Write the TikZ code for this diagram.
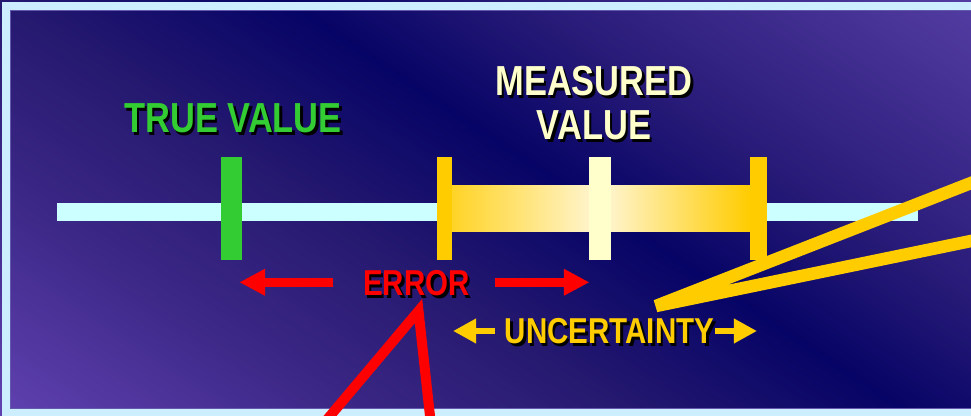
\documentclass[tikz,border=0pt]{standalone}
\usepackage{fontspec}
\setmainfont{Liberation Sans}
\usepackage{tikz}
\usetikzlibrary{arrows.meta}
\usepackage{xcolor}

\definecolor{bgA}{RGB}{98,66,178}
\definecolor{bgB}{RGB}{60,40,135}
\definecolor{bgC}{RGB}{38,25,112}
\definecolor{bgD}{RGB}{6,4,102}
\definecolor{bgE}{RGB}{38,25,118}
\definecolor{bgF}{RGB}{86,62,164}
\definecolor{frameblue}{RGB}{204,238,255}
\definecolor{barcyan}{RGB}{204,255,255}
\definecolor{truegreen}{RGB}{51,204,51}
\definecolor{gold}{RGB}{255,204,0}
\definecolor{cream}{RGB}{255,255,204}
\definecolor{lightcream}{RGB}{255,246,214}
\newcommand{\dropshadowed}[1]{\rlap{\kern2.3pt\raisebox{-1.9pt}{\color{black}#1}}#1}

\begin{document}
\begin{tikzpicture}[x=0.75pt,y=0.75pt,yscale=-1,xscale=1,
  tag/.style={anchor=base,inner sep=0pt,xscale=0.82,font=\fontsize{31.5}{36}\selectfont\bfseries},
  small tag/.style={tag,font=\fontsize{27}{32}\selectfont\bfseries},
  errarrow/.style={draw=red,line width=6.5pt,-{Triangle[length=19.3pt,width=18.8pt]}},
  uncarrow/.style={draw=gold,line width=5pt,-{Triangle[length=17.3pt,width=17.5pt]}}]
\useasboundingbox (0,0) rectangle (971,416);
\clip (0,0) rectangle (971,416);

%Shape: Background gradient
\foreach \ta/\tb/\ca/\cb in {-450/-250/bgA/bgB,-250/-98/bgB/bgC,-98/62/bgC/bgD,62/182/bgD/bgE,182/450/bgE/bgF}{
  \pgfmathtruncatemacro\n{(\tb-\ta)/4}
  \foreach \i in {1,...,\n}{
    \pgfmathsetmacro\t{\ta+4*(\i-1)}
    \pgfmathsetmacro\p{100*(\i-0.5)/\n}
    \fill[color=\cb!\p!\ca] ({491+0.551*\t-542},{210-0.834*\t-358}) -- ({491+0.551*\t+542},{210-0.834*\t+358}) -- ({491+0.551*(\t+4.6)+542},{210-0.834*(\t+4.6)+358}) -- ({491+0.551*(\t+4.6)-542},{210-0.834*(\t+4.6)-358}) -- cycle;
  }
}
%Shape: Frame
\draw [color=frameblue,line width=6.4pt] (6.25,6) rectangle (990,412.75);
\draw [color={rgb, 255:red, 100; green, 88; blue, 170},line width=0.75pt] (10.5,10.5) rectangle (990,408.5);

%Shape: Rectangle [scale bar]
\fill [barcyan] (57,203) rectangle (918,221);
%Shape: Rectangle [uncertainty band]
\shade [left color=gold!85!white,right color=gold,middle color=lightcream] (452,185.7) rectangle (750,231.7);
%Shape: Rectangle [true value tick]
\fill [truegreen] (221,157.5) rectangle (242,260.5);
%Shape: Rectangle [band ends]
\fill [gold] (436.5,157.5) rectangle (452,260.5);
\fill [gold] (750,157.5) rectangle (766.5,260.5);
%Shape: Rectangle [measured tick]
\fill [cream] (589,157.5) rectangle (610.5,260.5);

% Text Node
\node [tag,text=truegreen] (trueLabel) at (233,133) {\dropshadowed{TRUE VALUE}};
% Text Node
\node [tag,text=cream] (measLabel) at (594,95.5) {\dropshadowed{MEASURED}};
% Text Node
\node [tag,text=cream] (valLabel) at (594,140) {\dropshadowed{VALUE}};
% Text Node
\node [small tag,text=red] (errLabel) at (416.5,296) {\dropshadowed{ERROR}};
% Text Node
\node [small tag,text=gold] (uncLabel) at (609.5,344) {\dropshadowed{UNCERTAINTY}};

%Straight Lines [error arrows]
\coordinate (errLeftFrom) at (333,282.3);
\coordinate (errLeftTip) at (239.3,282.3);
\coordinate (errRightFrom) at (495,282.3);
\coordinate (errRightTip) at (589.5,282.3);
\draw [errarrow] (errLeftFrom) -- (errLeftTip);
\draw [errarrow] (errRightFrom) -- (errRightTip);
%Straight Lines [uncertainty arrows]
\coordinate (uncLeftFrom) at (495,331);
\coordinate (uncLeftTip) at (453,331);
\coordinate (uncRightFrom) at (715,331);
\coordinate (uncRightTip) at (757,331);
\draw [uncarrow] (uncLeftFrom) -- (uncLeftTip);
\draw [uncarrow] (uncRightFrom) -- (uncRightTip);

%Straight Lines [callout pointers]
\coordinate (errApex) at (418.5,311);
\coordinate (uncApex) at (656,306);
\draw [red,line width=7.5pt] (311.5,438) -- (errApex) -- (432.4,438);
\draw [gold,line width=9.4pt] (1000,171.7) -- (uncApex) -- (1000,235);

\end{tikzpicture}
\end{document}
